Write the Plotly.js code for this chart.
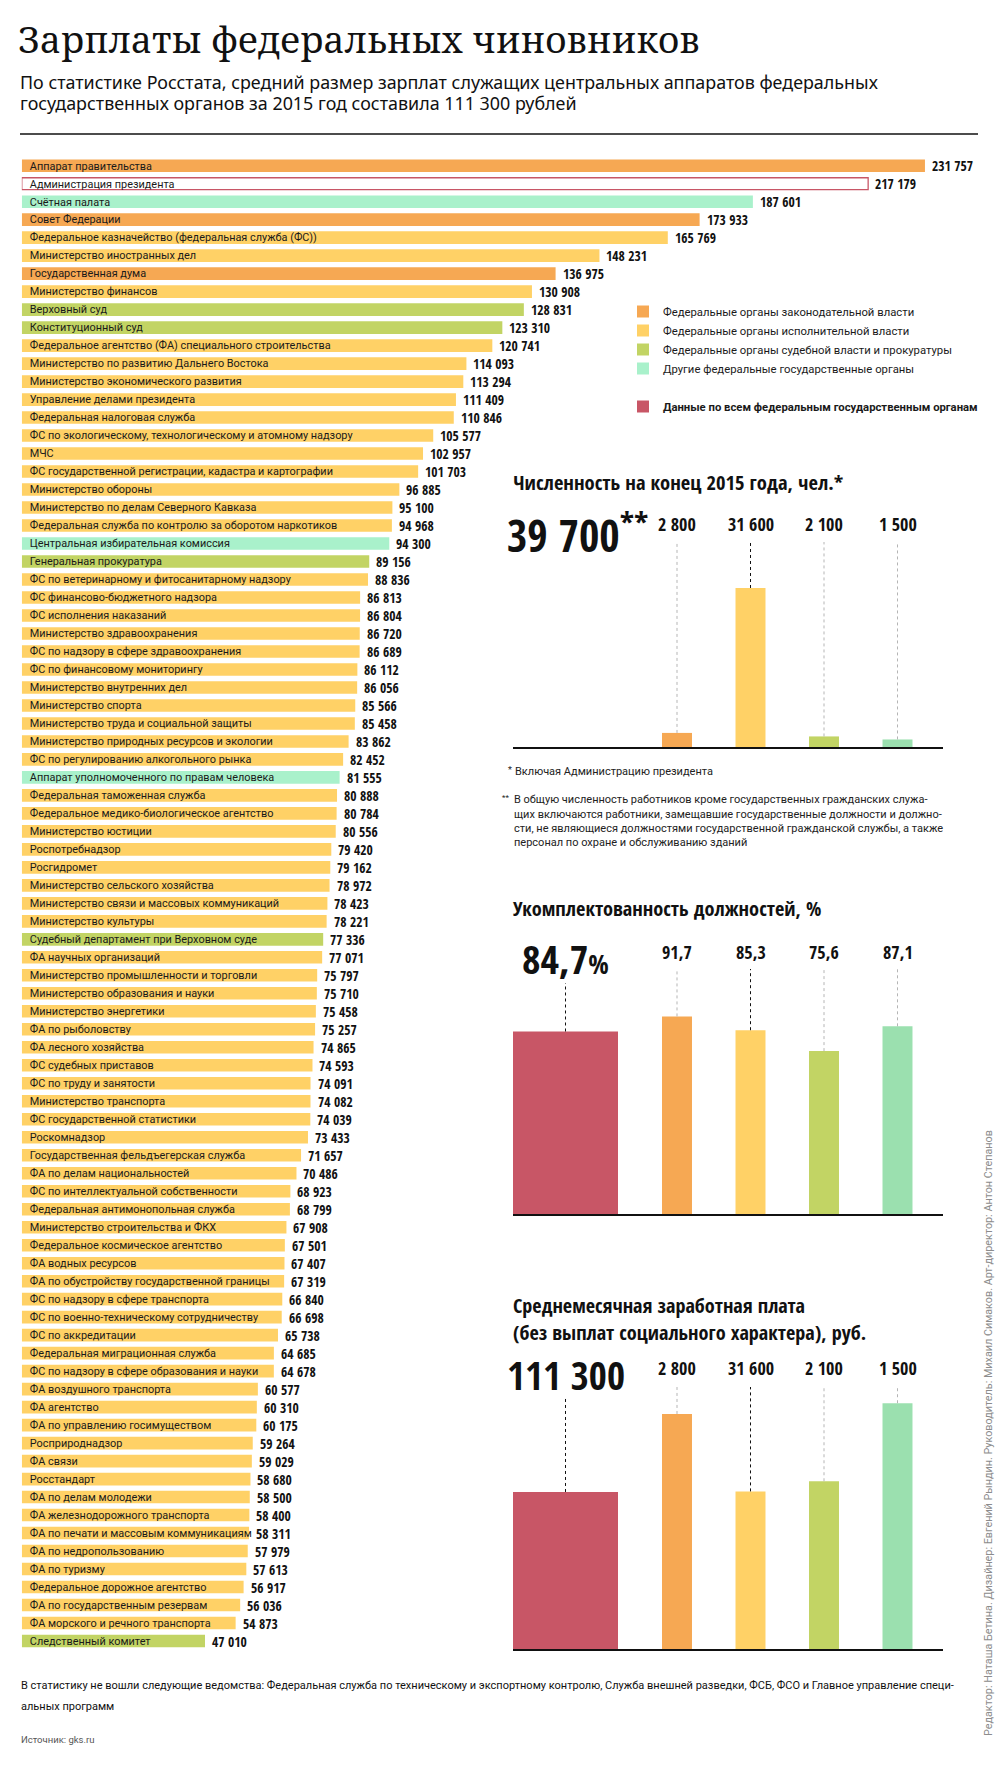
<!DOCTYPE html>
<html>
<head>
<meta charset="utf-8">
<script src="https://cdn.plot.ly/plotly-3.0.1.min.js"></script>
<style>html,body{margin:0;padding:0;background:#fff;}#chart{width:998px;height:1770px;}</style>
</head>
<body>
<div id="chart"></div>
<script>
// ---------- DATA ----------
const agencies = [
  "Аппарат правительства","Администрация президента","Счётная палата","Совет Федерации",
  "Федеральное казначейство (федеральная служба (ФС))","Министерство иностранных дел","Государственная дума",
  "Министерство финансов","Верховный суд","Конституционный суд",
  "Федеральное агентство (ФА) специального строительства","Министерство по развитию Дальнего Востока",
  "Министерство экономического развития","Управление делами президента","Федеральная налоговая служба",
  "ФС по экологическому, технологическому и атомному надзору","МЧС",
  "ФС государственной регистрации, кадастра и картографии","Министерство обороны",
  "Министерство по делам Северного Кавказа","Федеральная служба по контролю за оборотом наркотиков",
  "Центральная избирательная комиссия","Генеральная прокуратура","ФС по ветеринарному и фитосанитарному надзору",
  "ФС финансово-бюджетного надзора","ФС исполнения наказаний","Министерство здравоохранения",
  "ФС по надзору в сфере здравоохранения","ФС по финансовому мониторингу","Министерство внутренних дел",
  "Министерство спорта","Министерство труда и социальной защиты","Министерство природных ресурсов и экологии",
  "ФС по регулированию алкогольного рынка","Аппарат уполномоченного по правам человека",
  "Федеральная таможенная служба","Федеральное медико-биологическое агентство","Министерство юстиции",
  "Роспотребнадзор","Росгидромет","Министерство сельского хозяйства","Министерство связи и массовых коммуникаций",
  "Министерство культуры","Судебный департамент при Верховном суде","ФА научных организаций",
  "Министерство промышленности и торговли","Министерство образования и науки","Министерство энергетики",
  "ФА по рыболовству","ФА лесного хозяйства","ФС судебных приставов","ФС по труду и занятости",
  "Министерство транспорта","ФС государственной статистики","Роскомнадзор",
  "Государственная фельдъегерская служба","ФА по делам национальностей","ФС по интеллектуальной собственности",
  "Федеральная антимонопольная служба","Министерство строительства и ФКХ","Федеральное космическое агентство",
  "ФА водных ресурсов","ФА по обустройству государственной границы","ФС по надзору в сфере транспорта",
  "ФС по военно-техническому сотрудничеству","ФС по аккредитации","Федеральная миграционная служба",
  "ФС по надзору в сфере образования и науки","ФА воздушного транспорта","ФА агентство",
  "ФА по управлению госимуществом","Росприроднадзор","ФА связи","Росстандарт","ФА по делам молодежи",
  "ФА железнодорожного транспорта","ФА по печати и массовым коммуникациям","ФА по недропользованию",
  "ФА по туризму","Федеральное дорожное агентство","ФА по государственным резервам",
  "ФА морского и речного транспорта","Следственный комитет"
];
const salaries = [
  231757,217179,187601,173933,165769,148231,136975,130908,128831,123310,
  120741,114093,113294,111409,110846,105577,102957,101703,96885,95100,
  94968,94300,89156,88836,86813,86804,86720,86689,86112,86056,
  85566,85458,83862,82452,81555,80888,80784,80556,79420,79162,
  78972,78423,78221,77336,77071,75797,75710,75458,75257,74865,
  74593,74091,74082,74039,73433,71657,70486,68923,68799,67908,
  67501,67407,67319,66840,66698,65738,64685,64678,60577,60310,
  60175,59264,59029,58680,58500,58400,58311,57979,57613,56917,
  56036,54873,47010
];
// L = законодательная, E = исполнительная, J = судебная и прокуратура, O = другие, A = Администрация президента
const branch = [
  "L","A","O","L","E","E","L","E","J","J",
  "E","E","E","E","E","E","E","E","E","E",
  "E","O","J","E","E","E","E","E","E","E",
  "E","E","E","E","O","E","E","E","E","E",
  "E","E","E","J","E","E","E","E","E","E",
  "E","E","E","E","E","E","E","E","E","E",
  "E","E","E","E","E","E","E","E","E","E",
  "E","E","E","E","E","E","E","E","E","E",
  "E","E","J"
];
const branchCodes = ["L","E","J","O"];
const branchNames = [
  "Федеральные органы законодательной власти",
  "Федеральные органы исполнительной власти",
  "Федеральные органы судебной власти и прокуратуры",
  "Другие федеральные государственные органы"
];
const allName = "<b>Данные по всем федеральным государственным органам</b>";

// summary panels: [все органы, законодательные, исполнительные, судебные, другие]
const summaryGroups = ["all","leg","exe","jud","oth"];
const headcount = [39700, 2800, 31600, 2100, 1500];
const staffing  = [84.7, 91.7, 85.3, 75.6, 87.1];
const avgWage   = [111300, 166600, 111700, 118900, 174200];
// labels printed over the wage panel (as in the original graphic)
const wageLabels = ["111 300", "2 800", "31 600", "2 100", "1 500"];

// ---------- STYLE ----------
const W = 998, H = 1770;
const px = x => x / W, py = y => 1 - y / H;
const COLORS = {L:"#F6A853", E:"#FFD166", J:"#C2D464", O:"#A9F1CB"};
const SMALL_COLORS = ["#C85666","#F6A853","#FFD166","#C2D464","#9BE0AF"];
const RED = "#C85666";
const COND = "Open Sans Condensed, Roboto Condensed, sans-serif";
const SANS = "Roboto, Noto Sans, sans-serif";
const fmt = n => String(n).replace(/\B(?=(\d{3})+(?!\d))/g, " ");
const fmtDec = v => String(v).replace(".", ",");

const traces = [];
const annotations = [];
const shapes = [];

// ---------- MAIN BAR CHART ----------
branchCodes.forEach((code, k) => {
  const idx = agencies.map((_, i) => i).filter(i => branch[i] === code);
  traces.push({
    type: "bar", orientation: "h",
    y: idx.map(i => agencies[i]), x: idx.map(i => salaries[i]),
    marker: {color: COLORS[code]}, width: 0.7,
    name: branchNames[k], legendgroup: "g1",
    xaxis: "x", yaxis: "y", hoverinfo: "skip"
  });
});
{
  const idx = agencies.map((_, i) => i).filter(i => branch[i] === "A");
  traces.push({
    type: "bar", orientation: "h",
    y: idx.map(i => agencies[i]), x: idx.map(i => salaries[i]),
    marker: {color: "#ffffff", line: {color: RED, width: 1.3}}, width: 0.66,
    showlegend: false, xaxis: "x", yaxis: "y", hoverinfo: "skip"
  });
}
agencies.forEach((a, i) => {
  annotations.push({
    xref: "x", yref: "y", x: salaries[i], y: a, xanchor: "left", yanchor: "middle",
    xshift: 6, showarrow: false, text: fmt(salaries[i]), borderpad: 0,
    font: {family: COND, size: 13.6, color: "#111", weight: 700}
  });
});

// ---------- SUMMARY PANELS ----------
const UNIT_W = 0.408;        // narrow bars
const RED_W = 1.4286;        // wide "all" bar
const RED_OFF = -1.2313;     // left edge of wide bar relative to its slot
const RED_C = RED_OFF + RED_W / 2;
const pos = summaryGroups.map((_, i) => i);
const panels = [
  {xa: "x2", ya: "y2", vals: headcount, top: 40740, redTop: null, drawAll: false,
   labels: headcount.map(fmt), labelY: 524},
  {xa: "x3", ya: "y3", vals: staffing, top: 113.7, redTop: 107.2, drawAll: true,
   labels: staffing.map(fmtDec), labelY: 952},
  {xa: "x4", ya: "y4", vals: avgWage, top: 185700, redTop: 177230, drawAll: true,
   labels: wageLabels, labelY: 1368}
];
panels.forEach((p, k) => {
  if (p.drawAll) {
    traces.push({
      type: "bar", x: [pos[0]], y: [p.vals[0]], width: [RED_W], offset: [RED_OFF],
      marker: {color: RED}, name: allName, legendgroup: "g2", showlegend: k === 1,
      xaxis: p.xa, yaxis: p.ya, hoverinfo: "skip"
    });
    shapes.push({type: "line", xref: p.xa, yref: p.ya, x0: RED_C, x1: RED_C,
      y0: p.vals[0], y1: p.redTop, line: {color: "#111", width: 1, dash: "dot"}});
  }
  traces.push({
    type: "bar", x: pos.slice(1), y: p.vals.slice(1), width: UNIT_W,
    marker: {color: SMALL_COLORS.slice(1)}, showlegend: false,
    xaxis: p.xa, yaxis: p.ya, hoverinfo: "skip"
  });
  for (let i = 1; i < pos.length; i++) {
    shapes.push({type: "line", xref: p.xa, yref: p.ya, x0: pos[i], x1: pos[i],
      y0: p.vals[i], y1: p.top, line: {color: i === 2 ? "#111" : "#b5b5b5", width: 1, dash: "dot"}});
    annotations.push({xref: p.xa, yref: "paper", x: pos[i], y: py(p.labelY), xanchor: "center",
      yanchor: "middle", showarrow: false, text: p.labels[i],
      font: {family: COND, size: 18, color: "#111", weight: 700}});
  }
});
// big headline numbers
annotations.push({xref: "paper", yref: "paper", x: px(505), y: py(533), xanchor: "left", yanchor: "middle",
  showarrow: false, text: fmt(headcount[0]) + "<sup>**</sup>",
  font: {family: COND, size: 44, color: "#111", weight: 700}});
annotations.push({xref: "x3", yref: "paper", x: RED_C, y: py(958), xanchor: "center", yanchor: "middle",
  showarrow: false, text: fmtDec(staffing[0]) + "<span style=\"font-size:27px;font-weight:300\">%</span>",
  font: {family: COND, size: 40, color: "#111", weight: 700}});
annotations.push({xref: "x4", yref: "paper", x: RED_C, y: py(1374), xanchor: "center", yanchor: "middle",
  showarrow: false, text: wageLabels[0],
  font: {family: COND, size: 39, color: "#111", weight: 700}});

// panel titles
const panelTitle = (text, y, size) => annotations.push({xref: "paper", yref: "paper", x: px(511), y: py(y),
  xanchor: "left", yanchor: "middle", showarrow: false, text,
  font: {family: COND, size, color: "#111", weight: 700}});
panelTitle("Численность на конец 2015 года, чел.*", 482, 20.5);
panelTitle("Укомплектованность должностей, %", 908, 20.3);
panelTitle("Среднемесячная заработная плата", 1305, 20.2);
panelTitle("(без выплат социального характера), руб.", 1332, 20.2);

// footnotes
const note = (text, x, y, size, color, family) => annotations.push({xref: "paper", yref: "paper",
  x: px(x), y: py(y), xanchor: "left", yanchor: "middle", align: "left", showarrow: false, text,
  font: {family: family || SANS, size, color}});
note("*", 506, 770, 9, "#222");
note("Включая Администрацию президента", 513, 772, 11, "#222");
note("**", 500, 797, 8, "#222");
note("В общую численность работников кроме государственных гражданских служа-", 512, 799, 11, "#222");
note("щих включаются работники, замещавшие государственные должности и должно-", 512, 814, 11, "#222");
note("сти, не являющиеся должностями государственной гражданской службы, а также", 512, 828.5, 11, "#222");
note("персонал по охране и обслуживанию зданий", 512, 843, 11, "#222");

// page texts
note("По статистике Росстата, средний размер зарплат служащих центральных аппаратов федеральных", 18, 82, 17.9, "#111", "Noto Sans, sans-serif");
note("государственных органов за 2015 год составила 111 300 рублей", 18, 103, 17.9, "#111", "Noto Sans, sans-serif");
note("В статистику не вошли следующие ведомства: Федеральная служба по техническому и экспортному контролю, Служба внешней разведки, ФСБ, ФСО и Главное управление специ-", 19, 1685, 11, "#111");
note("альных программ", 19, 1706, 11, "#111");
note("Источник: gks.ru", 19, 1739, 9.5, "#555");
annotations.push({xref: "paper", yref: "paper", x: px(988), y: py(1433), xanchor: "center", yanchor: "middle",
  textangle: -90, showarrow: false,
  text: "Редактор: Наташа Бетина. Дизайнер: Евгений Рындин. Руководитель: Михаил Симаков. Арт-директор: Антон Степанов",
  font: {family: SANS, size: 10.8, color: "#8c8c8c"}});

shapes.push({type: "line", xref: "paper", yref: "paper", x0: px(20), x1: px(978), y0: py(134), y1: py(134),
  line: {color: "#111", width: 1.5}});

// ---------- AXES ----------
const PX_PER_RUB = 0.003897;
const MAIN_MAX = 240000;
const panelX = [px(513), px(943)];
const panelXRange = [RED_OFF, (943 - 603.5) / 73.5];
const hiddenY = (dom, top, anchor) => ({domain: dom, range: [0, top], visible: false, fixedrange: true, anchor});
const panelXAxis = (anchor) => ({domain: panelX, range: panelXRange, anchor, showline: true, linecolor: "#111",
  linewidth: 1.5, showgrid: false, zeroline: false, showticklabels: false, ticks: "", fixedrange: true});

const layout = {
  width: W, height: H, margin: {l: 0, r: 0, t: 0, b: 0},
  paper_bgcolor: "#fff", plot_bgcolor: "rgba(0,0,0,0)",
  barmode: "overlay", hovermode: false, dragmode: false,
  title: {text: "Зарплаты федеральных чиновников", x: px(18), xanchor: "left", xref: "paper",
    y: py(40), yanchor: "middle", yref: "paper",
    font: {family: "Noto Serif, serif", size: 36.8, color: "#111"}},
  xaxis: {domain: [px(21.8), px(21.8 + MAIN_MAX * PX_PER_RUB)], range: [0, MAIN_MAX], visible: false, fixedrange: true},
  yaxis: {domain: [py(1650), py(156.7)], type: "category", categoryorder: "array", categoryarray: agencies,
    range: [agencies.length - 0.5, -0.5], tickmode: "linear", tick0: 0, dtick: 1,
    ticklabelposition: "inside", ticklabelstandoff: 5, ticks: "", showgrid: false, zeroline: false,
    showline: false, tickfont: {family: SANS, size: 10.9, color: "#1a1a1a"}, fixedrange: true, anchor: "x"},
  xaxis2: panelXAxis("y2"),
  yaxis2: hiddenY([py(747), py(542)], 40740, "x2"),
  xaxis3: panelXAxis("y3"),
  yaxis3: hiddenY([py(1214), py(969)], 113.7, "x3"),
  xaxis4: panelXAxis("y4"),
  yaxis4: hiddenY([py(1649), py(1387)], 185700, "x4"),
  showlegend: true,
  legend: {x: px(623), xanchor: "left", y: py(297), yanchor: "top", traceorder: "grouped", tracegroupgap: 19,
    font: {family: SANS, size: 11.3, color: "#1a1a1a"}, bgcolor: "rgba(0,0,0,0)"},
  annotations, shapes
};

Plotly.newPlot("chart", traces, layout, {displayModeBar: false, staticPlot: true});
</script>
</body>
</html>
